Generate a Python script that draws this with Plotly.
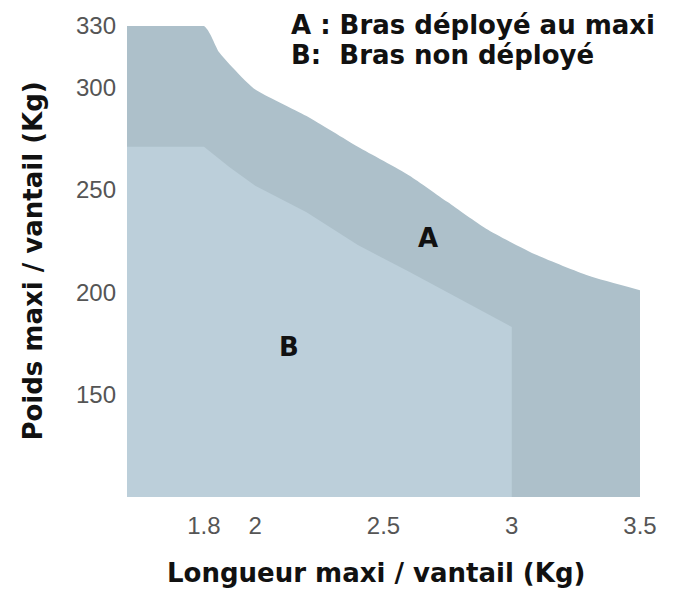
import plotly.graph_objects as go

# Courbe A : bras déployé au maxi
A_x = [1.5, 1.8, 1.86, 1.94, 2.0, 2.2, 2.4, 2.6, 2.75, 2.9, 3.1, 3.3, 3.5]
A_y = [330, 330, 317, 306, 299, 286, 271, 257, 244, 231, 218, 208, 201]

# Courbe B : bras non déployé
B_x = [1.5, 1.8, 1.9, 2.0, 2.2, 2.4, 2.6, 2.75, 3.0]
B_y = [271, 271, 261, 252, 239, 223, 210, 200, 183]

x_ticks = [1.8, 2, 2.5, 3, 3.5]
x_ticktext = ["1.8", "2", "2.5", "3", "3.5"]
y_ticks = [150, 200, 250, 300, 330]
y_ticktext = ["150", "200", "250", "300", "330"]

COL_A = "#adc0ca"
COL_B = "#bccfda"
TITLE_FONT = dict(family="DejaVu Sans", size=26, color="#111111")
TICK_FONT = dict(family="Liberation Sans", size=24, color="#555555")

fig = go.Figure()
fig.add_trace(go.Scatter(x=A_x, y=A_y, mode="lines", fill="tozeroy",
                         fillcolor=COL_A,
                         line=dict(width=0, color=COL_A, shape="spline", smoothing=0.6),
                         hoverinfo="skip", showlegend=False))
fig.add_trace(go.Scatter(x=B_x, y=B_y, mode="lines", fill="tozeroy",
                         fillcolor=COL_B,
                         line=dict(width=0, color=COL_B),
                         hoverinfo="skip", showlegend=False))

fig.update_layout(
    width=677, height=592,
    margin=dict(l=127, r=37, t=23, b=95),
    paper_bgcolor="white", plot_bgcolor="white",
    xaxis=dict(range=[1.5, 3.5], tickvals=x_ticks, ticktext=x_ticktext,
               showgrid=False, zeroline=False, showline=False,
               ticks="", tickfont=TICK_FONT, ticklabelstandoff=12),
    yaxis=dict(range=[100, 330], tickvals=y_ticks, ticktext=y_ticktext,
               showgrid=False, zeroline=False, showline=False,
               ticks="", tickfont=TICK_FONT, ticklabelstandoff=10),
    annotations=[
        dict(text="<b>Poids maxi / vantail (Kg)</b>", xref="paper", yref="paper",
             x=-0.185, y=0.5, xanchor="center", yanchor="middle",
             textangle=-90, showarrow=False, font=TITLE_FONT),
        dict(text="<b>Longueur maxi / vantail (Kg)</b>", xref="paper", yref="paper",
             x=0.486, y=-0.1624, xanchor="center", yanchor="middle",
             showarrow=False, font=TITLE_FONT),
        dict(text="<b>A : Bras déployé au maxi</b>", xref="paper", yref="paper",
             x=0.316, y=1.002, xanchor="left", yanchor="middle",
             showarrow=False, font=dict(family="DejaVu Sans", size=26, color="#111111")),
        dict(text="<b>B:\u00a0 Bras non déployé</b>", xref="paper", yref="paper",
             x=0.316, y=0.939, xanchor="left", yanchor="middle",
             showarrow=False, font=dict(family="DejaVu Sans", size=26, color="#111111")),
        dict(text="<b>A</b>", x=2.673, y=226.7, xref="x", yref="y",
             showarrow=False, font=dict(family="DejaVu Sans", size=26, color="#111111")),
        dict(text="<b>B</b>", x=2.132, y=173.2, xref="x", yref="y",
             showarrow=False, font=dict(family="DejaVu Sans", size=26, color="#111111")),
    ],
)

fig.write_html("out.html", config={"displayModeBar": False},
               post_script="document.body.style.margin='0';")
